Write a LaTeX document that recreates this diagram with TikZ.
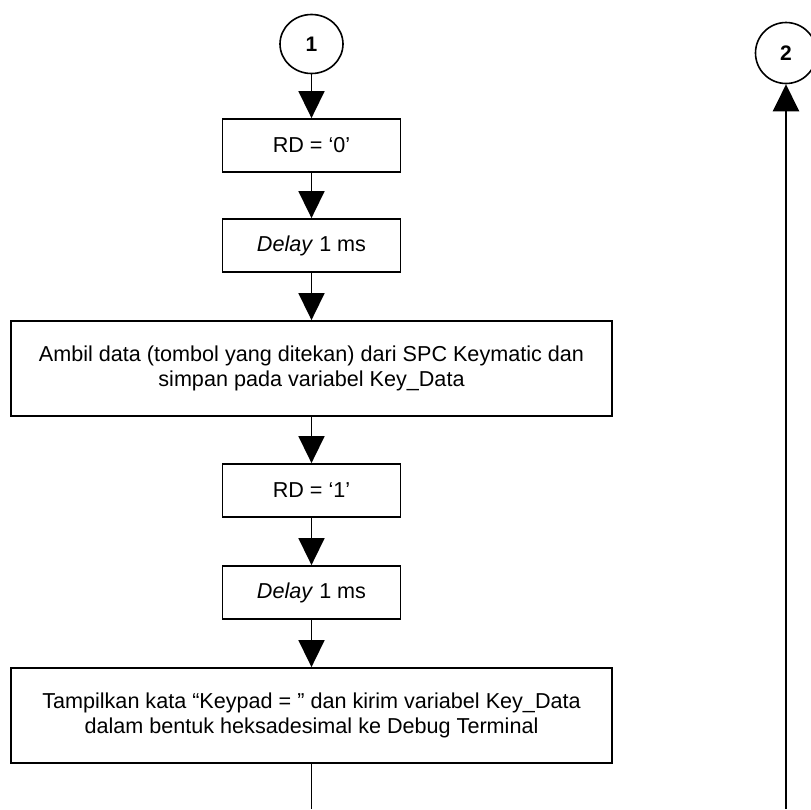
\documentclass[tikz,border=0pt]{standalone}
\usepackage{fontspec}
\setmainfont{Liberation Sans}
\usetikzlibrary{arrows.meta,shapes.geometric}
\begin{document}
\begin{tikzpicture}[x=1pt,y=-1pt,
  procbox/.style={draw, line width=1.8pt, rectangle, inner sep=0pt, align=center,
    font=\fontsize{21.6}{25.5}\selectfont},
  connector/.style={draw, line width=1.6pt, inner sep=0pt,
    font=\fontsize{21}{21}\selectfont\bfseries},
  flow/.style={line width=1.6pt, -{Triangle[width=26pt,length=27pt]}},
  plainline/.style={line width=1.6pt}]
\useasboundingbox (0,0) rectangle (811,809);

% off-page connectors
\node[connector, ellipse, minimum width=63pt, minimum height=59pt] (c1) at (311.5,44) {1};
\node[connector, circle, minimum size=61pt, line width=1.6pt] (c2) at (786,53) {2};

% process steps
\node[procbox, minimum width=178pt, minimum height=53pt] (rd0) at (311.5,145.5) {RD = ‘0’};
\node[procbox, minimum width=178pt, minimum height=53pt] (dly1) at (311.5,245.5) {\textit{Delay} 1 ms};
\node[procbox, minimum width=601pt, minimum height=95pt] (ambil) at (311.5,368.5)
  {Ambil data (tombol yang ditekan) dari SPC Keymatic dan\\simpan pada variabel Key\_Data};
\node[procbox, minimum width=178pt, minimum height=53pt] (rd1) at (311.5,490.5) {RD = ‘1’};
\node[procbox, minimum width=178pt, minimum height=53pt] (dly2) at (311.5,592.5) {\textit{Delay} 1 ms};
\node[procbox, minimum width=601pt, minimum height=95pt] (tampil) at (311.5,715.5)
  {Tampilkan kata “Keypad = ” dan kirim variabel Key\_Data\\dalam bentuk heksadesimal ke Debug Terminal};

% loose ends at the lower edge
\coordinate (endL) at (311.5,809);
\coordinate (endR) at (786,809);

% flow lines
\draw[flow] (c1) -- (rd0);
\draw[flow] (rd0) -- (dly1);
\draw[flow] (dly1) -- (ambil);
\draw[flow] (ambil) -- (rd1);
\draw[flow] (rd1) -- (dly2);
\draw[flow] (dly2) -- (tampil);
\draw[plainline] (tampil) -- (endL);
\draw[flow, line width=2.3pt] (endR) -- (c2);
\end{tikzpicture}
\end{document}
